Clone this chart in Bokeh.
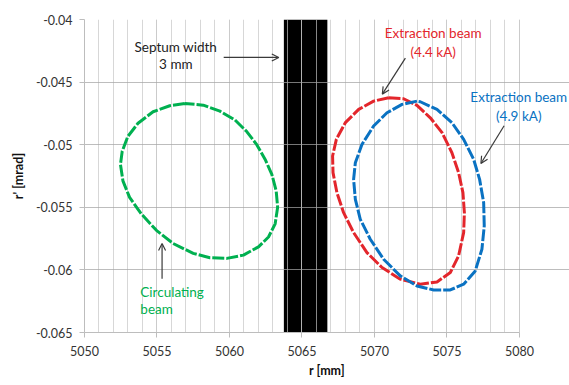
from bokeh.plotting import figure
from bokeh.models import Range1d, FixedTicker, Label, Arrow, OpenHead
from bokeh.embed import file_html
from bokeh.resources import INLINE

# ---- data ----
circ_r = [5056.92, 5055.88, 5054.73, 5053.69, 5052.99, 5052.60, 5052.48, 5052.65, 5053.11,
          5053.92, 5054.96, 5056.11, 5057.50, 5058.65, 5059.81, 5060.96, 5062.00, 5062.69,
          5063.15, 5063.32, 5063.22, 5062.92, 5062.46, 5061.88, 5061.19, 5060.38, 5059.34,
          5058.19, 5056.92]
circ_rp = [-0.04671, -0.04689, -0.04737, -0.04829, -0.04934, -0.05053, -0.05158, -0.05289,
           -0.05421, -0.05553, -0.05684, -0.05789, -0.05868, -0.05903, -0.05908, -0.05882,
           -0.05816, -0.05737, -0.05632, -0.05500, -0.05368, -0.05237, -0.05118, -0.05000,
           -0.04895, -0.04803, -0.04732, -0.04684, -0.04671]

ext44_r = [5070.98, 5069.94, 5068.91, 5067.99, 5067.37, 5067.11, 5067.14, 5067.41, 5067.87,
           5068.56, 5069.48, 5070.52, 5071.78, 5073.16, 5074.31, 5075.23, 5075.80, 5076.15,
           5076.20, 5076.10, 5075.80, 5075.34, 5074.66, 5073.85, 5072.93, 5072.01, 5070.98]
ext44_rp = [-0.04625, -0.04652, -0.04718, -0.04824, -0.04957, -0.05090, -0.05223, -0.05383,
            -0.05543, -0.05702, -0.05862, -0.05981, -0.06074, -0.06114, -0.06096, -0.06021,
            -0.05888, -0.05702, -0.05543, -0.05383, -0.05223, -0.05064, -0.04904, -0.04785,
            -0.04686, -0.04633, -0.04625]

ext49_r = [5072.93, 5071.90, 5070.86, 5069.94, 5069.14, 5068.68, 5068.56, 5068.68, 5069.02,
           5069.71, 5070.63, 5071.78, 5072.93, 5074.08, 5075.23, 5076.15, 5076.95, 5077.41,
           5077.57, 5077.53, 5077.25, 5076.84, 5076.15, 5075.34, 5074.31, 5073.16, 5072.93]
ext49_rp = [-0.04652, -0.04678, -0.04745, -0.04851, -0.04997, -0.05144, -0.05277, -0.05436,
            -0.05596, -0.05755, -0.05915, -0.06048, -0.06128, -0.06160, -0.06160, -0.06114,
            -0.06008, -0.05835, -0.05649, -0.05463, -0.05277, -0.05117, -0.04957, -0.04824,
            -0.04718, -0.04657, -0.04652]

septum_left = 5063.75
septum_right = 5066.75

x_ticks = [5050, 5055, 5060, 5065, 5070, 5075, 5080]
x_minor = list(range(5050, 5081))
y_ticks = [-0.065, -0.06, -0.055, -0.05, -0.045, -0.04]
y_tick_labels = ["-0.065", "-0.06", "-0.055", "-0.05", "-0.045", "-0.04"]

FONT = "Lato"
GREEN = "#00B050"
RED = "#E3262C"
BLUE = "#0A72C2"
ARROW = "#3a3a3a"

x_lo, x_hi = x_ticks[0], x_ticks[-1]
# the frame extends a little past 5080 so the right-hand label is not clipped;
# that extra strip is masked in white below
x_view_hi = x_hi + 3.45

p = figure(width=569, height=385, output_backend="svg", toolbar_location=None,
           x_range=Range1d(x_lo, x_view_hi), y_range=Range1d(y_ticks[0], y_ticks[-1]),
           min_border_left=84, min_border_right=0, min_border_top=19, min_border_bottom=53)
p.outline_line_color = None
p.background_fill_color = "white"

# septum (drawn beneath grid lines)
p.quad(left=[septum_left], right=[septum_right], bottom=[y_ticks[0]], top=[y_ticks[-1]],
       fill_color="black", line_color=None, level="image")

# white mask right of 5080 (hides grid lines there)
p.quad(left=[x_hi + 0.04], right=[x_view_hi + 1], bottom=[y_ticks[0] - 0.01], top=[y_ticks[-1] + 0.01],
       fill_color="white", line_color=None, level="underlay")

# axes / grids
p.xaxis.ticker = FixedTicker(ticks=x_ticks, minor_ticks=x_minor)
p.yaxis.ticker = FixedTicker(ticks=y_ticks)
p.yaxis.major_label_overrides = {t: l for t, l in zip(y_ticks, y_tick_labels)}
p.xaxis.bounds = (x_lo, x_hi)
p.xgrid.grid_line_color = "#c5c5c5"
p.xgrid.grid_line_alpha = 0.69
p.xgrid.minor_grid_line_color = "#c5c5c5"
p.xgrid.minor_grid_line_alpha = 0.69
p.ygrid.grid_line_color = "#a4a4a4"
p.ygrid.grid_line_alpha = 0.73
for ax in (p.xaxis, p.yaxis):
    ax.axis_line_color = "#bdbdbd"
    ax.major_tick_line_color = "#bdbdbd"
    ax.major_tick_out = 5
    ax.major_tick_in = 0
    ax.minor_tick_out = 0
    ax.minor_tick_in = 0
    ax.major_label_text_font = FONT
    ax.major_label_text_font_size = "12.5px"
    ax.major_label_text_color = "#333333"
    ax.axis_label_text_font = FONT
    ax.axis_label_text_font_size = "12.5px"
    ax.axis_label_text_font_style = "bold"
    ax.axis_label_text_color = "#111111"
p.xaxis.axis_label = "r [mm]"
p.yaxis.axis_label = "r' [mrad]"
p.xaxis.major_label_standoff = 8
p.xaxis.axis_label_standoff = 4
p.yaxis.major_label_standoff = 7
p.yaxis.axis_label_standoff = 7

# beams
p.line(circ_r, circ_rp, line_color=GREEN, line_width=3, line_dash="12 2")
p.line(ext44_r, ext44_rp, line_color=RED, line_width=3, line_dash="12 2")
p.line(ext49_r, ext49_rp, line_color=BLUE, line_width=3, line_dash="12 2")

# annotations
def add_label(x, y, text, color, align="center"):
    p.add_layout(Label(x=x, y=y, text=text, text_font=FONT, text_font_size="13.5px",
                       text_color=color, text_align=align, text_baseline="middle"))

add_label(5056.3, -0.04216, "Septum width", "#222222")
add_label(5056.3, -0.04354, "3 mm", "#222222")
add_label(5074.05, -0.04104, "Extraction beam", RED)
add_label(5074.05, -0.04256, "(4.4 kA)", RED)
add_label(5079.95, -0.04623, "Extraction beam", BLUE)
add_label(5079.95, -0.04769, "(4.9 kA)", BLUE)
add_label(5053.85, -0.06180, "Circulating", GREEN, align="left")
add_label(5053.85, -0.06313, "beam", GREEN, align="left")

def add_arrow(x0, y0, x1, y1):
    p.add_layout(Arrow(x_start=x0, y_start=y0, x_end=x1, y_end=y1,
                       line_color=ARROW, line_width=1.2,
                       end=OpenHead(size=7, line_color=ARROW, line_width=1.2)))

add_arrow(5059.6, -0.04303, 5063.4, -0.04303)
add_arrow(5072.13, -0.04308, 5070.54, -0.04596)
add_arrow(5078.94, -0.04849, 5077.34, -0.05150)
add_arrow(5055.35, -0.06071, 5055.35, -0.05789)

open("out.html", "w").write(file_html(p, INLINE))
